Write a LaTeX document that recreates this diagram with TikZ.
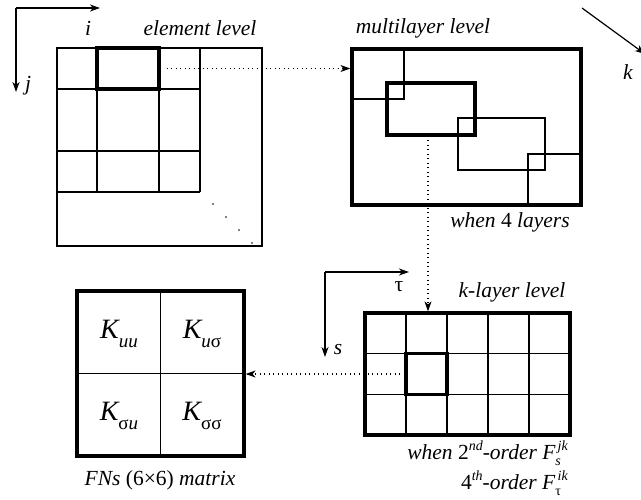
\documentclass[tikz,border=0pt]{standalone}
\usepackage{fontspec}
\setmainfont{Liberation Serif}[Ligatures=TeX]
\usetikzlibrary{arrows.meta}

% sub- and superscripts in text
\newcommand{\lo}[1]{\raisebox{-0.25em}{\fontsize{14}{14}\selectfont #1}}
\newcommand{\hi}[1]{\raisebox{0.45em}{\fontsize{14}{14}\selectfont #1}}
\newcommand{\klo}[1]{\raisebox{-0.3em}{\fontsize{19}{19}\selectfont #1}}

\tikzset{
  thinbox/.style={draw, line width=1.2pt, inner sep=0pt},
  thickbox/.style={draw, line width=3.2pt, inner sep=0pt},
  caption/.style={font=\fontsize{21.5}{25}\selectfont\itshape, inner sep=0pt},
  entry/.style={font=\fontsize{28}{30}\selectfont\itshape, inner sep=0pt},
  axis/.style={-{Stealth[length=10pt, width=7pt, inset=3pt]}, line width=1.2pt},
  link/.style={-{Stealth[length=10pt, width=7pt, inset=3pt]}, line width=1.1pt,
    dash pattern=on 1.1pt off 3.4pt}
}

\begin{document}
\begin{tikzpicture}[x=1pt, y=-1pt]
    \useasboundingbox (0, 0) rectangle (641, 499);

    % element level
    \coordinate (ij) at (16, 8);
    \draw [axis] (ij) -- (100, 8);
    \draw [axis] (ij) -- (16, 92);
    \node [caption] (ilab) at (88, 28) {i};
    \node [caption] (jlab) at (28, 86) {j};
    \node [caption] (elemtitle) at (200, 28) {element level};

    \node [thinbox, minimum width=205pt, minimum height=198pt] (elem) at (159.5, 147) {};
    \draw [line width=1.2pt] (57, 89) -- (200, 89) (57, 151) -- (200, 151) (57, 192) -- (200, 192);
    \draw [line width=1.2pt] (97, 48) -- (97, 192) (159, 48) -- (159, 192) (200, 48) -- (200, 192);
    \node [thickbox, minimum width=62pt, minimum height=41pt] (elemcell) at (128, 68.5) {};
    \foreach \t in {0,...,3}
      \fill (213+13*\t, 204+13*\t) circle (0.9);

    % multilayer level
    \node [caption] (multititle) at (423, 28) {multilayer level};
    \node [thinbox, minimum width=52pt, minimum height=50pt] (lay1) at (378, 74) {};
    \node [thinbox, minimum width=87pt, minimum height=52pt] (lay3) at (501.5, 144) {};
    \node [thinbox, minimum width=53pt, minimum height=51pt] (lay4) at (554.5, 179.5) {};
    \node [thickbox, minimum width=88pt, minimum height=52pt] (lay2) at (431, 109) {};
    \node [thickbox, minimum width=229pt, minimum height=156pt] (multi) at (466.5, 127) {};
    \node [caption] (layers) at (510, 222) {when \textup{4} layers};

    \draw [axis] (582, 8) -- (645, 54);
    \node [caption] (klab) at (628, 72) {k};

    \draw [link] ([xshift=6pt]elemcell.east) -- (multi.west |- elemcell.east);

    % k-layer level
    \coordinate (st) at (325, 272);
    \draw [axis] (st) -- (409, 272);
    \draw [axis] (st) -- (325, 357);
    \node [caption] (taulab) at (399, 287) {\textup{τ}};
    \node [caption] (slab) at (338, 350) {s};
    \node [caption] (ktitle) at (512, 292) {k-layer level};

    \node [thickbox, minimum width=205pt, minimum height=122pt] (klayer) at (467.5, 374) {};
    \foreach \c in {1,...,4}
      \draw [line width=1.2pt] (365+41*\c, 313) -- (365+41*\c, 435);
    \foreach \r in {1,2}
      \draw [line width=1.2pt] (365, 313+40.67*\r) -- (570, 313+40.67*\r);
    \node [thickbox, minimum width=41pt, minimum height=40.7pt] (kcell) at (426.5, 374) {};

    \node [caption, anchor=east] (order2) at (568, 453)
      {when \textup{2}\hi{nd}-order F\lo{s}\hspace{-0.15em}\hi{jk}};
    \node [caption, anchor=east] (order4) at (568, 483)
      {\textup{4}\hi{th}-order F\lo{\textup{τ}}\hspace{-0.15em}\hi{ik}};

    \coordinate (drop) at (428, 140);
    \draw [link] (drop) -- (drop |- klayer.north);

    % assembled matrix
    \node [thickbox, minimum width=167pt, minimum height=165pt] (fnmat) at (160.5, 373.5) {};
    \draw [line width=1.2pt] (fnmat.north) -- (fnmat.south) (fnmat.west) -- (fnmat.east);
    \node [entry] (kuu) at (119, 334) {K\klo{uu}};
    \node [entry] (kus) at (202, 334) {K\klo{u\textup{σ}}};
    \node [entry] (ksu) at (119, 416) {K\klo{\textup{σ}u}};
    \node [entry] (kss) at (202, 416) {K\klo{\textup{σσ}}};
    \node [caption] (fncap) at (160, 480) {FNs \textup{(6×6)} matrix};

    \draw [link] ([xshift=-4pt]kcell.west) -- (fnmat.east |- kcell.west);
  \end{tikzpicture}
\end{document}
